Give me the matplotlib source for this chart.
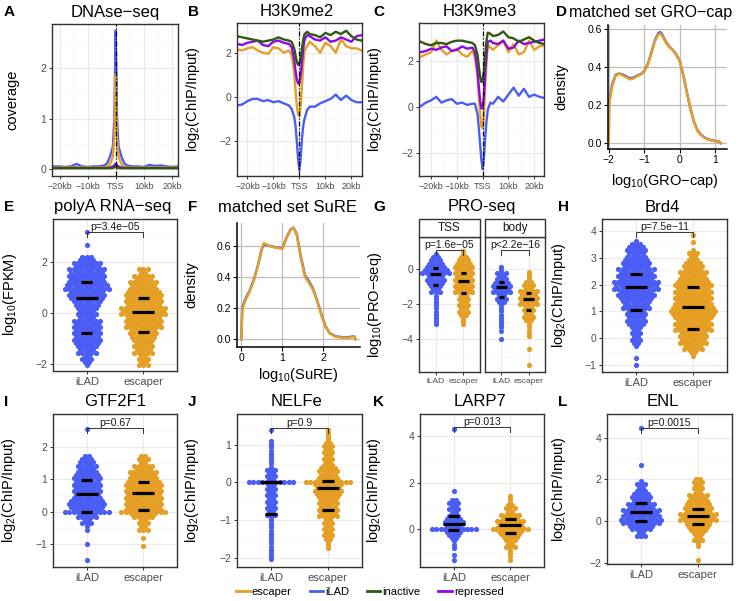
import numpy as np
import matplotlib
matplotlib.use('Agg')
import matplotlib.pyplot as plt
from matplotlib.lines import Line2D
from matplotlib.patches import Rectangle
from matplotlib.ticker import MultipleLocator

plt.rcParams['font.family'] = ['Liberation Sans', 'DejaVu Sans']
plt.rcParams['mathtext.fontset'] = 'custom'
plt.rcParams['mathtext.rm'] = 'Liberation Sans'

COL_ESC = '#E69F25'
COL_ILAD = '#4A5DF5'
COL_INACT = '#2D5A0E'
COL_REPR = '#8B0AE6'

# ---- profile data (A-C), position in kb ----
POS_A = [-22,-20,-18,-16,-14,-12,-10,-8,-6,-4,-3,-2,-1,-0.5,-0.25,0,0.25,0.5,1,2,3,4,6,8,10,12,14,16,18,20,22]
dnase_ilad = [0.05,0.05,0.04,0.05,0.1,0.05,0.04,0.05,0.05,0.07,0.12,0.25,0.45,1.0,1.9,2.75,1.9,1.0,0.45,0.25,0.12,0.07,0.05,0.05,0.04,0.08,0.06,0.07,0.05,0.04,0.05]
dnase_esc = [0.03,0.03,0.03,0.03,0.04,0.03,0.03,0.03,0.03,0.03,0.05,0.1,0.25,0.6,1.2,1.88,1.2,0.6,0.25,0.1,0.05,0.03,0.03,0.03,0.03,0.03,0.03,0.03,0.03,0.03,0.03]
dnase_repr = [0.02,0.02,0.02,0.02,0.02,0.02,0.02,0.02,0.02,0.02,0.02,0.03,0.05,0.07,0.09,0.1,0.09,0.07,0.05,0.03,0.02,0.02,0.02,0.02,0.02,0.02,0.02,0.02,0.02,0.02,0.02]
dnase_inact = [0.015,0.015,0.015,0.015,0.015,0.015,0.015,0.015,0.015,0.015,0.015,0.015,0.02,0.03,0.04,0.05,0.04,0.03,0.02,0.015,0.015,0.015,0.015,0.015,0.015,0.015,0.015,0.015,0.015,0.015,0.015]

POS = [-24,-22,-20,-18,-16,-14,-12,-10,-8,-6,-4,-3,-2,-1.5,-1,-0.5,0,0.5,1,1.5,2,3,4,6,8,10,12,14,16,18,20,22,24]
me2_inact = [2.75,2.7,2.65,2.6,2.55,2.5,2.55,2.6,2.7,2.6,2.55,2.5,2.2,1.9,1.6,1.45,1.5,1.75,2.2,2.6,2.85,2.95,2.85,2.8,2.7,2.9,2.8,2.95,2.85,3.0,2.75,2.6,2.55]
me2_repr = [2.4,2.35,2.45,2.5,2.55,2.35,2.3,2.5,2.55,2.45,2.4,2.25,1.7,1.2,0.8,0.6,0.62,1.0,1.6,2.2,2.6,2.8,2.75,2.6,2.55,2.7,2.5,2.55,2.7,2.6,2.5,2.75,2.8]
me2_esc = [2.15,2.1,2.2,2.25,2.1,2.0,1.95,2.25,2.2,2.0,2.1,1.9,1.1,0.3,-0.4,-0.8,-0.88,-0.4,0.5,1.5,2.1,2.3,2.5,2.3,2.0,2.45,2.3,2.0,2.6,2.3,2.2,2.2,2.1]
me2_ilad = [-0.4,-0.35,-0.2,-0.1,-0.1,-0.2,-0.15,-0.25,-0.2,-0.3,-0.4,-0.55,-0.9,-1.3,-2.0,-2.8,-3.35,-2.8,-1.9,-1.3,-1.0,-0.6,-0.45,-0.45,-0.3,-0.2,-0.1,0.1,-0.15,0.05,-0.15,-0.25,-0.25]
me3_inact = [2.85,2.75,2.7,2.8,2.8,2.75,2.85,2.9,2.9,2.85,2.8,2.7,2.3,1.8,1.35,1.1,1.15,1.6,2.3,2.9,3.25,3.2,3.1,3.15,3.3,3.05,3.0,2.85,2.95,3.05,2.9,2.8,2.75]
me3_repr = [2.4,2.45,2.55,2.5,2.6,2.65,2.45,2.5,2.65,2.55,2.6,2.4,1.6,0.9,0.3,-0.05,-0.05,0.5,1.5,2.3,2.85,2.9,2.8,2.75,2.9,2.55,2.6,2.9,2.75,2.8,2.85,2.9,2.95]
me3_esc = [2.2,2.3,2.4,2.9,2.5,2.3,2.45,2.55,2.3,2.2,2.45,2.2,1.3,0.5,-0.3,-0.85,-0.92,-0.3,0.9,2.0,2.7,2.6,2.5,2.7,2.9,2.4,2.75,2.3,2.4,2.9,2.5,2.65,2.7]
me3_ilad = [0.05,0.2,0.3,0.45,0.2,0.3,0.35,0.15,0.2,0.1,0.15,0.15,-0.3,-0.9,-1.6,-2.3,-2.7,-2.2,-1.3,-0.6,-0.1,0.2,0.15,0.45,0.25,0.55,0.85,0.5,0.8,0.45,0.55,0.45,0.4]

# ---- density data (D, F) ----
D_X = [-2.0,-1.99,-1.9,-1.8,-1.7,-1.6,-1.5,-1.4,-1.3,-1.2,-1.1,-1.0,-0.9,-0.8,-0.7,-0.6,-0.55,-0.5,-0.4,-0.3,-0.2,-0.1,0.0,0.1,0.2,0.3,0.4,0.5,0.6,0.7,0.8,0.9,1.0,1.1,1.15]
D_esc = [0.0,0.2,0.3,0.355,0.365,0.355,0.345,0.335,0.34,0.352,0.36,0.375,0.41,0.47,0.535,0.57,0.575,0.565,0.53,0.505,0.488,0.465,0.43,0.355,0.265,0.18,0.11,0.065,0.042,0.028,0.02,0.014,0.01,0.008,0.0]
D_ilad = [0.0,0.22,0.31,0.36,0.365,0.36,0.35,0.34,0.345,0.355,0.362,0.378,0.415,0.475,0.54,0.578,0.583,0.572,0.535,0.508,0.49,0.467,0.432,0.357,0.268,0.183,0.113,0.068,0.045,0.03,0.022,0.016,0.012,0.01,0.0]
F_X = [0.0,0.02,0.1,0.2,0.3,0.4,0.5,0.55,0.6,0.7,0.8,0.9,1.0,1.1,1.2,1.27,1.35,1.45,1.55,1.65,1.75,1.85,1.95,2.05,2.15,2.3,2.5,2.6,2.75,2.78]
F_esc = [0.0,0.19,0.25,0.305,0.374,0.467,0.585,0.617,0.61,0.596,0.59,0.585,0.58,0.65,0.703,0.714,0.67,0.52,0.40,0.36,0.316,0.24,0.155,0.08,0.037,0.015,0.009,0.009,0.015,0.0]
F_ilad = [0.0,0.2,0.26,0.31,0.38,0.47,0.58,0.607,0.605,0.598,0.592,0.588,0.585,0.652,0.705,0.716,0.675,0.53,0.41,0.37,0.322,0.245,0.16,0.083,0.04,0.018,0.012,0.013,0.018,0.0]

# ---- swarm data: profile levels, half-width (px), zero band, outliers, quartiles ----
E_ilad = dict(y=[-2.05,-1.9,-1.6,-1.2,-0.8,-0.4,0.0,0.3,0.6,1.0,1.6,2.0,2.3], w=[2,6,9,14,17,16,11,14,20,23,20,13,4], band=0, out=[2.7,3.2], q=[-0.79,0.61,1.22])
E_esc = dict(y=[-2.05,-2.0,-1.5,-1.0,-0.5,0.0,0.5,1.0,1.5,1.85], w=[6,7,9,13,19,23,21,17,11,3], band=0, out=[], q=[-0.75,0.05,0.62])
G_tss_ilad = dict(y=[-3.15,-3.0,-2.5,-2.0,-1.5,-1.0,-0.5,-0.2,0.0,0.5,1.0], w=[4,2,2.5,3,4,7.5,12,15,13,7,2], band=0, out=[], q=[-0.93,-0.3,0.05])
G_tss_esc = dict(y=[-3.15,-3.0,-2.5,-2.0,-1.5,-1.0,-0.5,0.0,0.5,1.1], w=[4,3,5,7,8,12,13,12,7,2], band=0, out=[], q=[-1.35,-0.68,-0.21])
G_body_ilad = dict(y=[-3.5,-3.0,-2.5,-2.0,-1.5,-1.0,-0.5,0.2], w=[2,2.5,2.5,4,7.5,12.5,7.5,1], band=0, out=[-4.0], q=[-1.61,-1.0,-0.76])
G_body_esc = dict(y=[-3.8,-3.5,-3.0,-2.5,-2.0,-1.5,-1.0,-0.5,-0.1], w=[1,2.5,4,6,9,12,7,3,1], band=0, out=[-4.55,-5.45], q=[-2.33,-1.72,-1.35])
H_ilad = dict(y=[-0.3,0.0,0.5,1.0,1.5,2.0,2.5,3.0,3.5,3.65], w=[4,6,9,13,19,24,19,13,8,3], band=0, out=[-1.0,-0.75], q=[1.05,1.91,2.4])
H_esc = dict(y=[-0.65,-0.5,0.0,0.5,1.0,1.5,2.0,2.5,3.0,3.4], w=[3,9,16,20,23,21,19,14,7,3], band=0, out=[3.6,3.85], q=[0.34,1.17,1.93])
I_ilad = dict(y=[-0.55,-0.3,-0.1,0.1,0.5,1.0,1.5,1.8], w=[2,6,11,20,17,15,9,6], band=24, out=[-1.0,-1.5,2.55], q=[0.0,0.55,0.98])
I_esc = dict(y=[-0.55,-0.2,0.1,0.5,1.0,1.5,1.8], w=[5,9,22,22,17,9,3], band=25, out=[-0.8,-1.07], q=[0.04,0.56,0.9])
J_ilad = dict(y=[-2.05,-1.5,-1.0,-0.5,-0.1,0.1,0.4,0.7,1.1], w=[3,4,4,6,7.5,7,4,4,2], band=24, out=[1.4], q=[-0.83,0.0,0.0])
J_esc = dict(y=[-1.75,-1.5,-1.0,-0.5,-0.2,0.2,0.5,1.0,1.45], w=[3,5,8,12,15,12,8,5,2], band=24, out=[], q=[-0.73,-0.15,0.05])
K_ilad = dict(y=[-0.8,-0.5,-0.2,0.2,0.5,1.0,1.3], w=[2,4,9,13,9,7.5,4], band=24, out=[-1.1,-1.3,1.65,4.3], q=[-0.03,0.22,0.58])
K_esc = dict(y=[-1.3,-1.0,-0.8,-0.5,-0.2,0.2,0.5,0.8,1.2,1.5], w=[2,4,4,7.5,12.5,17,12.5,7.5,4,2], band=22, out=[], q=[-0.18,0.17,0.42])
L_ilad = dict(y=[-0.7,-0.6,-0.3,0.0,0.5,1.0,1.5,2.0], w=[5,7,13,24,18,13,8,3], band=0, out=[2.7,4.45], q=[0.02,0.45,0.85])
L_esc = dict(y=[-1.2,-0.7,-0.3,0.1,0.5,1.0,1.5,2.15], w=[2,6,12.5,22,17,12.5,7.5,4], band=0, out=[-1.88], q=[-0.12,0.25,0.6])

groups = ['iLAD', 'escaper']
kb_ticks = [-20, -10, 0, 10, 20]
kb_labels = ['\u221220kb', '\u221210kb', 'TSS', '10kb', '20kb']

W, H = 741, 601
fig = plt.figure(figsize=(W / 100, H / 100), dpi=100)


def px_axes(l, t, r, b):
    return fig.add_axes([l / W, 1 - b / H, (r - l) / W, (b - t) / H])


def ftext(x, y, s, **kw):
    fig.text(x / W, 1 - y / H, s, **kw)


def style_bw(ax, xminor=None, yminor=None):
    for s in ax.spines.values():
        s.set_color('#333333')
        s.set_linewidth(1.0)
    ax.grid(True, which='major', color='#EBEBEB', lw=0.8)
    if xminor:
        ax.xaxis.set_minor_locator(MultipleLocator(xminor))
    if yminor:
        ax.yaxis.set_minor_locator(MultipleLocator(yminor))
    ax.grid(True, which='minor', color='#F4F4F4', lw=0.5)
    ax.set_axisbelow(True)
    ax.tick_params(which='major', colors='#333333', labelcolor='#4D4D4D', length=2.5, width=0.7, labelsize=7.5, pad=1.5)
    ax.tick_params(which='minor', length=0)


def style_classic(ax):
    for s in ('top', 'right'):
        ax.spines[s].set_visible(False)
    for s in ('left', 'bottom'):
        ax.spines[s].set_color('black')
        ax.spines[s].set_linewidth(1.1)
    ax.grid(True, color='#BEBEBE', lw=0.9)
    ax.set_axisbelow(True)
    ax.tick_params(colors='black', labelcolor='black', length=3, width=0.8, labelsize=7.5, pad=1.5)


def profile_panel(rect, pos, series, xlim, ylim, yticks, label, lx):
    ax = px_axes(*rect)
    for vals, col in series:
        ax.plot(pos, vals, color=col, lw=1.7, solid_joinstyle='round')
    ax.axvline(0, color='black', lw=0.9, ls=(0, (4, 1.5, 1, 1.5)), zorder=5)
    ax.set_xlim(*xlim)
    ax.set_ylim(*ylim)
    ax.set_xticks(kb_ticks)
    ax.set_xticklabels(kb_labels)
    ax.set_yticks(yticks)
    style_bw(ax, xminor=5, yminor=(yticks[1] - yticks[0]) / 2)
    ax.tick_params(axis='x', labelsize=6.5)
    ax.set_ylabel(label, fontsize=10.5)
    ax.yaxis.set_label_coords((lx - rect[0]) / (rect[2] - rect[0]), 0.5)
    return ax


def swarm(ax, xc, g, color, ppx, ppy, dx=4.4, dy=3.2):
    xs, ys = [], []
    prof_y, prof_w = g['y'], g['w']
    levels = np.arange(prof_y[0], prof_y[-1] + 1e-9, dy / ppy)
    for k, y in enumerate(levels):
        w = np.interp(y, prof_y, prof_w)
        n = int(w // dx)
        if k % 2 and n > 0:
            offs = (np.arange(-n, n) + 0.5) * dx
        else:
            offs = np.arange(-n, n + 1) * dx
        xs.extend(xc + offs / ppx)
        ys.extend([y] * len(offs))
    if g['band']:
        n = int(g['band'] // dx)
        offs = np.arange(-n, n + 1) * dx
        xs.extend(xc + offs / ppx)
        ys.extend([0.0] * len(offs))
    xs.extend([xc] * len(g['out']))
    ys.extend(g['out'])
    ax.scatter(xs, ys, s=14, color=color, lw=0, zorder=2)
    for v, hw in zip(g['q'], (0.1, 0.2, 0.1)):
        ax.plot([xc - hw, xc + hw], [v, v], color='black', lw=2.3, solid_capstyle='butt', zorder=3)


def bracket(ax, yb, text, ppy):
    t = 5 / ppy
    ax.plot([1, 1, 2, 2], [yb - t, yb, yb, yb - t], color='#333333', lw=0.7, zorder=4)
    ax.text(1.5, yb, text, ha='center', va='bottom', fontsize=7.5, color='#1A1A1A', zorder=5)


def swarm_panel(rect, ga, gb, ylim, yticks, ptext, yb, label, lx, xlim=(0.4, 2.6), xls=8):
    ax = px_axes(*rect)
    ax.set_xlim(*xlim)
    ax.set_ylim(*ylim)
    ppx = (rect[2] - rect[0]) / (xlim[1] - xlim[0])
    ppy = (rect[3] - rect[1]) / (ylim[1] - ylim[0])
    swarm(ax, 1, ga, COL_ILAD, ppx, ppy)
    swarm(ax, 2, gb, COL_ESC, ppx, ppy)
    bracket(ax, yb, ptext, ppy)
    ax.set_xticks([1, 2])
    ax.set_xticklabels(groups)
    ax.set_yticks(yticks)
    style_bw(ax, yminor=(yticks[1] - yticks[0]) / 2)
    ax.tick_params(axis='x', labelsize=xls)
    if label:
        ax.set_ylabel(label, fontsize=10.5)
        ax.yaxis.set_label_coords((lx - rect[0]) / (rect[2] - rect[0]), 0.5)
    return ax


LOG2 = 'log$_\\mathregular{2}$(ChIP/Input)'

# ---- A, B, C ----
profile_panel((52, 24, 178, 176), POS_A,
              [(dnase_ilad, COL_ILAD), (dnase_esc, COL_ESC), (dnase_repr, COL_REPR), (dnase_inact, COL_INACT)],
              (-22.7, 22.2), (-0.14, 2.88), [0, 1, 2], 'coverage', 19)
profile_panel((237, 23, 362, 176), POS,
              [(me2_ilad, COL_ILAD), (me2_esc, COL_ESC), (me2_repr, COL_REPR), (me2_inact, COL_INACT)],
              (-24, 24.1), (-3.6, 3.35), [-2, 0, 2], LOG2, 202)
profile_panel((419, 23, 544, 176), POS,
              [(me3_ilad, COL_ILAD), (me3_esc, COL_ESC), (me3_repr, COL_REPR), (me3_inact, COL_INACT)],
              (-24.7, 23.8), (-3.0, 3.67), [-2, 0, 2], LOG2, 384)

# ---- D ----
rD = (608, 25, 727, 149)
axD = px_axes(*rD)
axD.plot(D_X, D_ilad, color=COL_ILAD, lw=1.8)
axD.plot(D_X, D_esc, color=COL_ESC, lw=1.8)
axD.set_xlim(-2.02, 1.33)
axD.set_ylim(-0.03, 0.62)
axD.set_xticks([-2, -1, 0, 1])
axD.set_yticks([0, 0.2, 0.4, 0.6])
axD.set_yticklabels(['0.0', '0.2', '0.4', '0.6'])
style_classic(axD)
axD.set_ylabel('density', fontsize=10.5)
axD.yaxis.set_label_coords((568 - rD[0]) / (rD[2] - rD[0]), 0.5)
ftext(665, 181, 'log$_\\mathregular{10}$(GRO\u2212cap)', ha='center', va='center', fontsize=10.5)

# ---- E ----
swarm_panel((53, 219, 177, 371), E_ilad, E_esc, (-2.27, 3.71), [-2, 0, 2], 'p=3.4e\u221205', 3.21,
            'log$_\\mathregular{10}$(FPKM)', 19)

# ---- F ----
rF = (237, 223, 360, 347)
axF = px_axes(*rF)
axF.plot(F_X, F_ilad, color=COL_ILAD, lw=1.8)
axF.plot(F_X, F_esc, color=COL_ESC, lw=1.8)
axF.set_xlim(-0.106, 2.89)
axF.set_ylim(-0.05, 0.746)
axF.set_xticks([0, 1, 2])
axF.set_yticks([0, 0.2, 0.4, 0.6])
axF.set_yticklabels(['0.0', '0.2', '0.4', '0.6'])
style_classic(axF)
axF.set_ylabel('density', fontsize=10.5)
axF.yaxis.set_label_coords((198 - rF[0]) / (rF[2] - rF[0]), 0.5)
ftext(298, 375, 'log$_\\mathregular{10}$(SuRE)', ha='center', va='center', fontsize=10.5)

# ---- G (two facets) ----
axG1 = swarm_panel((419, 237, 480, 372), G_tss_ilad, G_tss_esc, (-5.85, 1.82), [-4, -2, 0], 'p=1.6e\u221205', 1.08,
                   'log$_\\mathregular{10}$(PRO\u2212seq)', 384, xls=6)
axG2 = swarm_panel((485, 237, 545, 372), G_body_ilad, G_body_esc, (-5.85, 1.82), [-4, -2, 0], 'p<2.2e\u221216', 1.08,
                   None, 0, xls=6)
axG2.tick_params(axis='y', length=0, labelleft=False)
for (l, r, s) in [(419, 480, 'TSS'), (485, 545, 'body')]:
    fig.add_artist(Rectangle((l / W, 1 - 237 / H), (r - l) / W, 18 / H, transform=fig.transFigure,
                             facecolor='white', edgecolor='#333333', lw=1.0))
    ftext((l + r) / 2, 228, s, ha='center', va='center', fontsize=8.5, color='#1A1A1A')

# ---- H ----
swarm_panel((602, 219, 727, 372), H_ilad, H_esc, (-1.26, 4.45), [-1, 0, 1, 2, 3, 4], 'p=7.5e\u221211', 3.97, LOG2, 568)

# ---- I-L ----
swarm_panel((53, 414, 177, 567), I_ilad, I_esc, (-1.7, 3.0), [-1, 0, 1, 2], 'p=0.67', 2.56, LOG2, 18)
swarm_panel((237, 414, 362, 567), J_ilad, J_esc, (-2.25, 1.82), [-2, -1, 0, 1], 'p=0.9', 1.46, LOG2, 201)
swarm_panel((420, 414, 544, 567), K_ilad, K_esc, (-1.62, 4.94), [0, 2, 4], 'p=0.013', 4.38, LOG2, 383)
swarm_panel((607, 414, 732, 564), L_ilad, L_esc, (-2.06, 5.13), [-2, 0, 2, 4], 'p=0.0015', 4.47, LOG2, 568)

# ---- titles and panel letters ----
titles = [('A', 4, 'DNAse\u2212seq', 115, 12), ('B', 188, 'H3K9me2', 297, 12), ('C', 373, 'H3K9me3', 480, 12),
          ('E', 4, 'polyA RNA\u2212seq', 113, 207), ('F', 188, 'matched set SuRE', 287, 207),
          ('G', 373, 'PRO-seq', 482, 207), ('H', 558, 'Brd4', 662, 207),
          ('I', 4, 'GTF2F1', 115, 402), ('J', 188, 'NELFe', 296, 402), ('K', 373, 'LARP7', 480, 402),
          ('L', 558, 'ENL', 663, 402)]
for let, lx, t, tx, ty in titles:
    ftext(lx, ty, let, ha='left', va='center', fontsize=11, weight='bold')
    ftext(tx, ty, t, ha='center', va='center', fontsize=12)
ftext(556, 12, 'D', ha='left', va='center', fontsize=11, weight='bold')
ftext(569, 12, 'matched set GRO\u2212cap', ha='left', va='center', fontsize=11.5)

# ---- legend ----
handles = [Line2D([], [], color=c, lw=2) for c in (COL_ESC, COL_ILAD, COL_INACT, COL_REPR)]
fig.legend(handles, ['escaper', 'iLAD', 'inactive', 'repressed'], loc='center', ncol=4,
           bbox_to_anchor=(370 / W, 1 - 592 / H), frameon=False, fontsize=8, handlelength=1.2,
           handletextpad=0.2, columnspacing=1.6)

fig.savefig('out.png', dpi=100)
